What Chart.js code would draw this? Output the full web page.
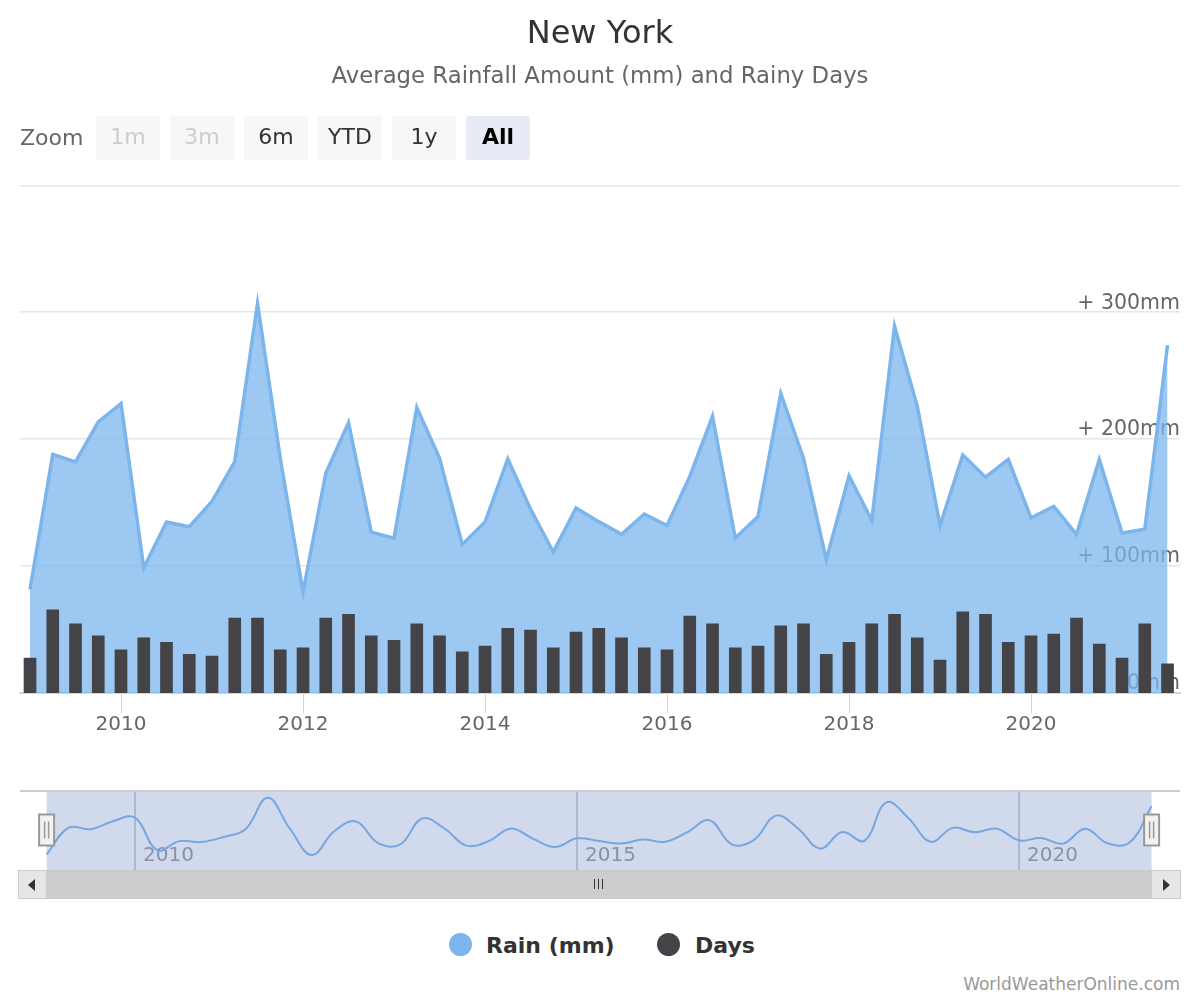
<!DOCTYPE html>
<html>
<head>
<meta charset="utf-8">
<script src="https://cdn.jsdelivr.net/npm/chart.js@4.4.1/dist/chart.umd.min.js"></script>
<style>
  body { margin: 0; background: #fff; font-family: 'DejaVu Sans', sans-serif; }
  #wrap { position: relative; width: 1200px; height: 1000px; overflow: hidden; }
  canvas { position: absolute; left: 0; }
  #main { top: 0; }
  #nav { top: 791px; }
  .zlabel { position: absolute; left: 20px; top: 116px; height: 44px; line-height: 44px; font-size: 22px; color: #666; }
  .btn { position: absolute; top: 116px; width: 64px; height: 44px; line-height: 42px; border-radius: 3px;
         background: #f7f7f7; color: #333; font-size: 22px; text-align: center; }
  .btn.off { color: #ccc; }
  .btn.on { background: #e6ebf5; color: #000; font-weight: bold; }
  #navtop { position: absolute; left: 20px; top: 790px; width: 1160px; height: 2px; background: #ccc; }
  .sb { position: absolute; top: 870px; height: 29px; box-sizing: border-box; }
  .sbtn { background: #e6e6e6; border: 1px solid #ccc; }
  .arrow { position: absolute; top: 8px; width: 0; height: 0; border-top: 6px solid transparent; border-bottom: 6px solid transparent; }
  .grip { position: absolute; top: 9px; width: 1px; height: 10px; background: #333; }
  .lg { position: absolute; top: 934px; height: 24px; line-height: 24px; font-size: 22px; font-weight: bold; color: #333; }
  .dot { position: absolute; top: 933px; width: 23px; height: 23px; border-radius: 50%; }
  #credit { position: absolute; right: 20px; top: 974px; font-size: 17px; color: #999; }
</style>
</head>
<body>
<div id="wrap">
  <canvas id="main" width="1200" height="760"></canvas>
  <div class="zlabel">Zoom</div>
  <div class="btn off" style="left:96px">1m</div>
  <div class="btn off" style="left:170px">3m</div>
  <div class="btn" style="left:244px">6m</div>
  <div class="btn" style="left:318px">YTD</div>
  <div class="btn" style="left:392px">1y</div>
  <div class="btn on" style="left:466px">All</div>

  <div id="navtop"></div>
  <canvas id="nav" width="1200" height="79"></canvas>

  <div class="sb sbtn" style="left:18px; width:29px"><div class="arrow" style="left:9px; border-right:7px solid #333"></div></div>
  <div class="sb" style="left:47px; width:1104px; background:#ccc">
    <div class="grip" style="left:547px"></div><div class="grip" style="left:551px"></div><div class="grip" style="left:555px"></div>
  </div>
  <div class="sb sbtn" style="left:1151px; width:30px"><div class="arrow" style="left:11px; border-left:7px solid #333"></div></div>

  <div class="dot" style="left:449px; background:#7cb5ec"></div>
  <div class="lg" style="left:486px">Rain (mm)</div>
  <div class="dot" style="left:657px; background:#434348"></div>
  <div class="lg" style="left:695px">Days</div>

  <div id="credit">WorldWeatherOnline.com</div>
</div>
<script>
const periods = [
  '2009-01','2009-04','2009-07','2009-10','2010-01','2010-04','2010-07','2010-10',
  '2011-01','2011-04','2011-07','2011-10','2012-01','2012-04','2012-07','2012-10',
  '2013-01','2013-04','2013-07','2013-10','2014-01','2014-04','2014-07','2014-10',
  '2015-01','2015-04','2015-07','2015-10','2016-01','2016-04','2016-07','2016-10',
  '2017-01','2017-04','2017-07','2017-10','2018-01','2018-04','2018-07','2018-10',
  '2019-01','2019-04','2019-07','2019-10','2020-01','2020-04','2020-07','2020-10',
  '2021-01','2021-04','2021-07'
];
const rain = [
  81.7, 188, 182, 213.5, 228, 98.7, 134.7, 131, 151, 182.3,
  307, 185, 79.4, 173, 213, 126.7, 122, 225, 185, 117,
  134.7, 184.4, 145, 111, 145.8, 135, 125, 141, 132, 170.6,
  218, 122, 139, 236, 185, 105, 171, 136, 289, 226,
  132, 187.5, 170, 184, 138, 147, 125, 184, 126, 129, 274
];
const days = [
  5.5, 13.1, 10.9, 9.0, 6.8, 8.7, 8.0, 6.1, 5.8, 11.8,
  11.8, 6.8, 7.1, 11.8, 12.4, 9.0, 8.3, 10.9, 9.0, 6.5,
  7.4, 10.2, 9.9, 7.1, 9.6, 10.2, 8.7, 7.1, 6.8, 12.1,
  10.9, 7.1, 7.4, 10.6, 10.9, 6.1, 8.0, 10.9, 12.4, 8.7,
  5.2, 12.8, 12.4, 8.0, 9.0, 9.3, 11.8, 7.7, 5.5, 10.9, 4.6
];
const xTicks = [2010, 2012, 2014, 2016, 2018, 2020];
const navTicks = [2010, 2015, 2020];
const rainTicks = [0, 100, 200, 300, 400];

Chart.defaults.font.family = "'DejaVu Sans', sans-serif";

// month string -> decimal year
const t = periods.map(p => {
  const [y, m] = p.split('-').map(Number);
  return y + (m - 1) / 12;
});

new Chart(document.getElementById('main'), {
  type: 'bar',
  data: {
    datasets: [
      {
        type: 'bar',
        label: 'Days',
        data: days.map((d, i) => ({ x: t[i], y: d })),
        yAxisID: 'days',
        backgroundColor: '#434348',
        barThickness: 12,
        order: 0
      },
      {
        type: 'line',
        label: 'Rain (mm)',
        data: rain.map((r, i) => ({ x: t[i], y: r })),
        yAxisID: 'y',
        borderColor: '#7cb5ec',
        backgroundColor: 'rgba(124,181,236,0.75)',
        borderWidth: 3.5,
        fill: 'origin',
        pointRadius: 0,
        tension: 0,
        order: 1
      }
    ]
  },
  options: {
    responsive: false,
    animation: false,
    layout: { padding: { left: 20, right: 20, top: 0, bottom: 17 } },
    plugins: {
      legend: { display: false },
      tooltip: { enabled: false },
      title: {
        display: true, text: 'New York', color: '#333',
        font: { size: 32, weight: 'normal' },
        padding: { top: 15.3, bottom: 0 }
      },
      subtitle: {
        display: true, text: 'Average Rainfall Amount (mm) and Rainy Days', color: '#666',
        font: { size: 22.8 },
        padding: { top: 9.9, bottom: 94.3 }
      }
    },
    scales: {
      x: {
        type: 'linear',
        min: 2008.89,
        max: 2021.637,
        offset: false,
        afterBuildTicks: s => { s.ticks = xTicks.map(v => ({ value: v })); },
        afterFit: s => { s.height = 50; },
        ticks: { callback: v => String(v), color: '#666', font: { size: 20 }, padding: 0, maxRotation: 0, autoSkip: false },
        grid: { drawOnChartArea: false, color: '#ccd6eb', tickLength: 20, offset: false },
        border: { color: '#ccd6eb', width: 2 }
      },
      y: {
        position: 'right',
        min: 0,
        max: 400,
        afterBuildTicks: s => { s.ticks = rainTicks.map(v => ({ value: v })); },
        afterFit: s => { s.width = 0; },
        ticks: {
          mirror: true, padding: 0, labelOffset: -9, color: '#666', font: { size: 20.5 },
          callback: v => v === 400 ? '' : (v === 0 ? '0mm' : '+ ' + v + 'mm')
        },
        grid: { color: '#e6e6e6', drawTicks: false, lineWidth: 1.5 },
        border: { display: false }
      },
      days: { display: false, min: 0, max: 80 }
    }
  }
});

// navigator: grid, labels under the line, mask and handles over it
const navDecor = {
  id: 'navDecor',
  beforeDatasetsDraw(chart) {
    const { ctx, chartArea, scales: { x } } = chart;
    ctx.save();
    ctx.fillStyle = '#999';
    ctx.font = "20px 'DejaVu Sans', sans-serif";
    ctx.textBaseline = 'middle';
    navTicks.forEach(v => ctx.fillText(String(v), x.getPixelForValue(v) + 8, chartArea.top + 64));
    ctx.restore();
  },
  afterDraw(chart) {
    const { ctx, chartArea, scales: { x } } = chart;
    const x0 = x.getPixelForValue(t[0]);
    const x1 = x.getPixelForValue(t[t.length - 1]);
    ctx.save();
    ctx.fillStyle = 'rgba(102,133,194,0.3)';
    ctx.fillRect(x0, chartArea.top, x1 - x0, chartArea.bottom - chartArea.top);
    [x0, x1].forEach(hx => {
      const top = chartArea.top + 22.5, h = 31;
      ctx.fillStyle = '#f2f2f2';
      ctx.strokeStyle = '#999';
      ctx.lineWidth = 2;
      ctx.fillRect(hx - 7.5, top, 15, h);
      ctx.strokeRect(hx - 7.5, top, 15, h);
      ctx.lineWidth = 1.5;
      ctx.beginPath();
      ctx.moveTo(hx - 2, top + 7); ctx.lineTo(hx - 2, top + h - 7);
      ctx.moveTo(hx + 2, top + 7); ctx.lineTo(hx + 2, top + h - 7);
      ctx.stroke();
    });
    ctx.restore();
  }
};

new Chart(document.getElementById('nav'), {
  type: 'line',
  data: {
    datasets: [{
      data: rain.map((r, i) => ({ x: t[i], y: r })),
      borderColor: '#7cb5ec',
      borderWidth: 2,
      pointRadius: 0,
      tension: 0.4,
      fill: false
    }]
  },
  options: {
    responsive: false,
    animation: false,
    layout: { padding: { left: 20, right: 20, top: 1, bottom: 0 } },
    plugins: { legend: { display: false }, tooltip: { enabled: false } },
    scales: {
      x: {
        type: 'linear',
        min: 2008.699,
        max: 2021.821,
        afterBuildTicks: s => { s.ticks = navTicks.map(v => ({ value: v })); },
        afterFit: s => { s.height = 0; },
        ticks: { display: false },
        grid: { color: '#c5cddc', drawTicks: false, lineWidth: 2 },
        border: { display: false }
      },
      y: { display: false, min: 20, max: 330 }
    }
  },
  plugins: [navDecor]
});
</script>
</body>
</html>
